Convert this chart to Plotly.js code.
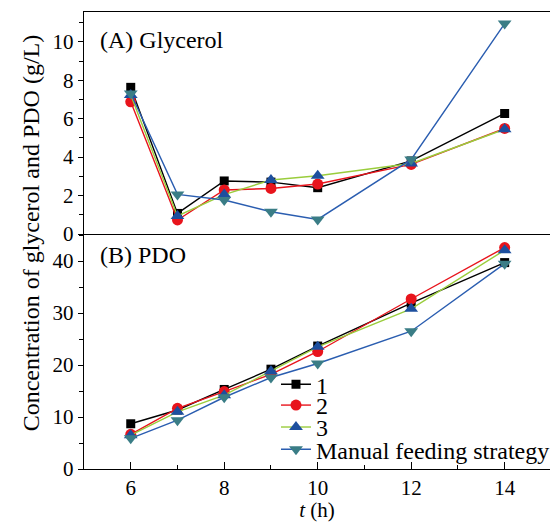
<!DOCTYPE html>
<html>
<head>
<meta charset="utf-8">
<script src="https://cdn.plot.ly/plotly-3.0.1.min.js"></script>
<style>html,body{margin:0;padding:0;background:#fff;}#chart{width:555px;height:522px;}</style>
</head>
<body>
<div id="chart"></div>
<script>
var t = [6, 7, 8, 9, 10, 12, 14];
var seriesNames = ['1', '2', '3', 'Manual feeding strategy'];

var glycerol1 = [7.63, 1.07, 2.76, 2.70, 2.41, 3.80, 6.27];
var glycerol2 = [6.88, 0.73, 2.29, 2.37, 2.60, 3.62, 5.49];
var glycerol3 = [7.23, 0.94, 2.05, 2.81, 3.03, 3.67, 5.45];
var glycerolManual = [7.31, 2.06, 1.77, 1.16, 0.76, 3.88, 10.95];

var pdo1 = [8.7, 11.35, 15.3, 19.2, 23.65, 31.9, 39.7];
var pdo2 = [6.67, 11.67, 14.9, 18.2, 22.6, 32.7, 42.6];
var pdo3 = [6.5, 11.0, 14.2, 18.8, 23.5, 30.8, 42.1];
var pdoManual = [5.9, 9.4, 13.8, 17.6, 20.3, 26.5, 39.5];

var FONT = "'Liberation Serif', 'Times New Roman', Times, serif";
var styles = [
  {line: '#000000', marker: '#000000', symbol: 'square', size: 9},
  {line: '#e8141c', marker: '#e8141c', symbol: 'circle', size: 11},
  {line: '#9acd3c', marker: '#1d4f9e', symbol: 'triangle-up', size: 12},
  {line: '#2a5db0', marker: '#3a7d86', symbol: 'triangle-down', size: 12}
];
var legendIds = ['legend', 'legend2', 'legend3', 'legend4'];
var glyc = [glycerol1, glycerol2, glycerol3, glycerolManual];
var pdo = [pdo1, pdo2, pdo3, pdoManual];

var traces = [];
for (var i = 0; i < 4; i++) {
  traces.push({
    x: t, y: glyc[i], xaxis: 'x2', yaxis: 'y2', mode: 'lines+markers',
    name: seriesNames[i], showlegend: false,
    line: {color: styles[i].line, width: 1.4},
    marker: {color: styles[i].marker, symbol: styles[i].symbol, size: styles[i].size}
  });
}
for (var i = 0; i < 4; i++) {
  traces.push({
    x: t, y: pdo[i], xaxis: 'x', yaxis: 'y', mode: 'lines+markers',
    name: seriesNames[i], showlegend: true, legend: legendIds[i],
    line: {color: styles[i].line, width: 1.4},
    marker: {color: styles[i].marker, symbol: styles[i].symbol, size: styles[i].size}
  });
}

var legendY = [0.1845, 0.1390, 0.0910, 0.0422];
function mkLegend(k) {
  return {x: 0.412, y: legendY[k], xanchor: 'left', yanchor: 'middle',
    bgcolor: 'rgba(0,0,0,0)', borderwidth: 0,
    font: {family: FONT, size: 24, color: '#000'}};
}

var split = 0.5142;
var layout = {
  width: 555, height: 522,
  margin: {l: 84, r: 0, t: 12, b: 53},
  paper_bgcolor: '#ffffff', plot_bgcolor: '#ffffff',
  font: {family: FONT, size: 21, color: '#000'},
  xaxis: {
    domain: [0, 1], anchor: 'y', range: [5, 14.97],
    tickvals: [6, 8, 10, 12, 14], ticks: 'inside', ticklen: 7, tickwidth: 1, tickcolor: '#000',
    minor: {dtick: 1, tick0: 5, ticks: 'inside', ticklen: 4, tickcolor: '#000'},
    showline: true, linecolor: '#000', linewidth: 1.2, showgrid: false, zeroline: false,
    tickfont: {family: FONT, size: 21},
    title: {text: '<i>t</i> (h)', font: {family: FONT, size: 21}, standoff: 0}
  },
  xaxis2: {
    domain: [0, 1], anchor: 'y2', range: [5, 14.97], matches: 'x',
    showticklabels: false, ticks: '', showline: true, mirror: true,
    linecolor: '#000', linewidth: 1.2, showgrid: false, zeroline: false
  },
  yaxis: {
    domain: [0, split], anchor: 'x', range: [0, 45.2],
    tickvals: [0, 10, 20, 30, 40], ticks: 'outside', ticklen: 5, tickcolor: '#000',
    minor: {dtick: 5, tick0: 0, ticks: 'outside', ticklen: 4, tickcolor: '#000'},
    showline: true, linecolor: '#000', linewidth: 1.2, showgrid: false, zeroline: false,
    tickfont: {family: FONT, size: 21}
  },
  yaxis2: {
    domain: [split, 1], anchor: 'x2', range: [0, 11.55],
    tickvals: [0, 2, 4, 6, 8, 10], ticks: 'outside', ticklen: 5, tickcolor: '#000',
    minor: {dtick: 1, tick0: 0, ticks: 'outside', ticklen: 4, tickcolor: '#000'},
    showline: true, linecolor: '#000', linewidth: 1.2, showgrid: false, zeroline: false,
    tickfont: {family: FONT, size: 21}
  },
  legend: mkLegend(0), legend2: mkLegend(1), legend3: mkLegend(2), legend4: mkLegend(3),
  annotations: [
    {text: '(A) Glycerol', xref: 'paper', yref: 'paper', x: 0.0297, y: 0.9387,
     xanchor: 'left', yanchor: 'middle', showarrow: false, font: {family: FONT, size: 24}},
    {text: '(B) PDO', xref: 'paper', yref: 'paper', x: 0.0297, y: 0.468,
     xanchor: 'left', yanchor: 'middle', showarrow: false, font: {family: FONT, size: 24}},
    {text: 'Concentration of glycerol and PDO (g/L)', xref: 'paper', yref: 'paper',
     x: -0.1146, y: 0.517, xanchor: 'center', yanchor: 'middle', textangle: -90,
     showarrow: false, font: {family: FONT, size: 24}}
  ]
};

Plotly.newPlot('chart', traces, layout, {staticPlot: true});
</script>
</body>
</html>
